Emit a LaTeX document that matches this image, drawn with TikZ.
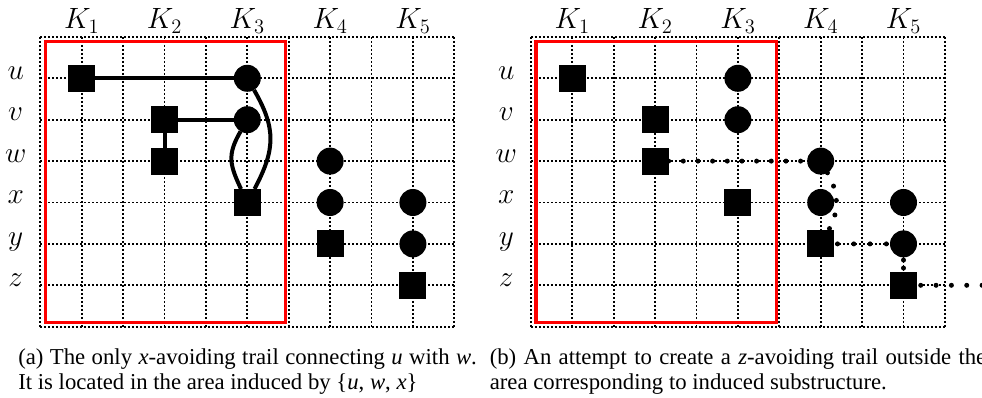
\RequirePackage{fix-cm}
\documentclass[tikz,border=0pt]{standalone}
\usepackage{fontspec}
\newfontfamily\capfont{Liberation Serif}
\begin{document}
\begin{tikzpicture}[x=0.75pt,y=0.75pt,
  gridline/.style={line width=1.25pt, dash pattern=on 1.25pt off 1.75pt, black},
  sq/.style={rectangle, fill=black, minimum size=20.25pt, inner sep=0pt, outer sep=0pt},
  cr/.style={circle, fill=black, minimum size=20.25pt, inner sep=0pt, outer sep=0pt},
  edgeline/.style={line width=3pt, black},
  trail/.style={line width=3.75pt, line cap=round, dash pattern=on 0pt off 11pt},
  lab/.style={font=\fontsize{22}{26}\selectfont, inner sep=0pt},
  redbox/.style={draw=red, line width=2.5pt},
  captext/.style={font=\capfont\fontsize{17.05}{20.5}\selectfont, inner sep=0pt, anchor=base west}]
\useasboundingbox (0,0) rectangle (982,-398);

% ---------- panel (a) ----------
\begin{scope}
  \foreach \i in {0,...,10} \draw[gridline] ({40.3+41.4*\i},-36.9) -- ({40.3+41.4*\i},-326.7);
  \foreach \j in {0,...,7} \draw[gridline] (40.3,{-36.9-41.4*\j}) -- (454.3,{-36.9-41.4*\j});
  \draw[redbox] (45.5,-41.5) rectangle (285.7,-322.7);
  \foreach \k/\xx in {1/81.7,2/164.5,3/247.3,4/330.1,5/412.9}
    \node[lab, anchor=base] (aK\k) at (\xx,-29) {$K_{\k}$};
  \foreach \r/\yy in {u/78.3,v/119.7,w/161.1,x/202.5,y/243.9,z/285.3}
    \node[lab, anchor=mid] (aR\r) at (15.7,{-\yy+1.7}) {$\r$};
  \node[sq] (a-u1) at (81.7,-78.3) {};
  \node[cr] (a-u3) at (247.3,-78.3) {};
  \node[sq] (a-v2) at (164.5,-119.7) {};
  \node[cr] (a-v3) at (247.3,-119.7) {};
  \node[sq] (a-w2) at (164.5,-161.1) {};
  \node[cr] (a-w4) at (330.1,-161.1) {};
  \node[sq] (a-x3) at (247.3,-202.5) {};
  \node[cr] (a-x4) at (330.1,-202.5) {};
  \node[cr] (a-x5) at (412.9,-202.5) {};
  \node[sq] (a-y4) at (330.1,-243.9) {};
  \node[cr] (a-y5) at (412.9,-243.9) {};
  \node[sq] (a-z5) at (412.9,-285.3) {};
  \draw[edgeline] (a-u1) -- (a-u3);
  \draw[edgeline] (a-v2) -- (a-v3);
  \draw[edgeline] (a-v2) -- (a-w2);
  \draw[edgeline] (a-u3) to[out=-60, in=62, looseness=1.15] (a-x3);
  \draw[edgeline] (a-v3) to[out=-120, in=115, looseness=1.2] (a-x3);
\end{scope}

% ---------- panel (b) ----------
\begin{scope}[xshift=367.95pt]
  \foreach \i in {0,...,10} \draw[gridline] ({40.3+41.4*\i},-36.9) -- ({40.3+41.4*\i},-326.7);
  \foreach \j in {0,...,7} \draw[gridline] (40.3,{-36.9-41.4*\j}) -- (454.3,{-36.9-41.4*\j});
  \draw[redbox] (45.5,-41.5) rectangle (285.7,-322.7);
  \foreach \k/\xx in {1/81.7,2/164.5,3/247.3,4/330.1,5/412.9}
    \node[lab, anchor=base] (bK\k) at (\xx,-29) {$K_{\k}$};
  \foreach \r/\yy in {u/78.3,v/119.7,w/161.1,x/202.5,y/243.9,z/285.3}
    \node[lab, anchor=mid] (bR\r) at (15.7,{-\yy+1.7}) {$\r$};
  \node[sq] (b-u1) at (81.7,-78.3) {};
  \node[cr] (b-u3) at (247.3,-78.3) {};
  \node[sq] (b-v2) at (164.5,-119.7) {};
  \node[cr] (b-v3) at (247.3,-119.7) {};
  \node[sq] (b-w2) at (164.5,-161.1) {};
  \node[cr] (b-w4) at (330.1,-161.1) {};
  \node[sq] (b-x3) at (247.3,-202.5) {};
  \node[cr] (b-x4) at (330.1,-202.5) {};
  \node[cr] (b-x5) at (412.9,-202.5) {};
  \node[sq] (b-y4) at (330.1,-243.9) {};
  \node[cr] (b-y5) at (412.9,-243.9) {};
  \node[sq] (b-z5) at (412.9,-285.3) {};
  \coordinate (b-zend) at (520,-285.3);
  \draw[trail] (b-w2) -- (b-w4);
  \draw[trail] (b-w4) to[out=-60, in=60] (b-y4);
  \draw[trail, dash pattern=on 0pt off 12.2pt, shorten <=2.5pt] (b-y4) -- (b-y5);
  \draw[trail, dash pattern=on 0pt off 6pt, shorten <=2pt] (b-y5) -- (b-z5);
  \draw[trail, dash pattern=on 0pt off 11.5pt, shorten <=2.8pt] (b-z5) -- (b-zend);
\end{scope}

% ---------- captions ----------
\node[captext] (capa1) at (18,-364.3) {\makebox[344pt][s]{(a) The only \textit{x}-avoiding trail connecting \textit{u} with \textit{w}.}};
\node[captext] (capa2) at (18,-390) {It is located in the area induced by \{\textit{u}, \textit{w}, \textit{x}\}};
\node[captext] (capb1) at (489.5,-364.3) {\makebox[372.4pt][s]{(b) An attempt to create a \textit{z}-avoiding trail outside the}};
\node[captext] (capb2) at (489.5,-390) {area corresponding to induced substructure.};
\end{tikzpicture}
\end{document}
